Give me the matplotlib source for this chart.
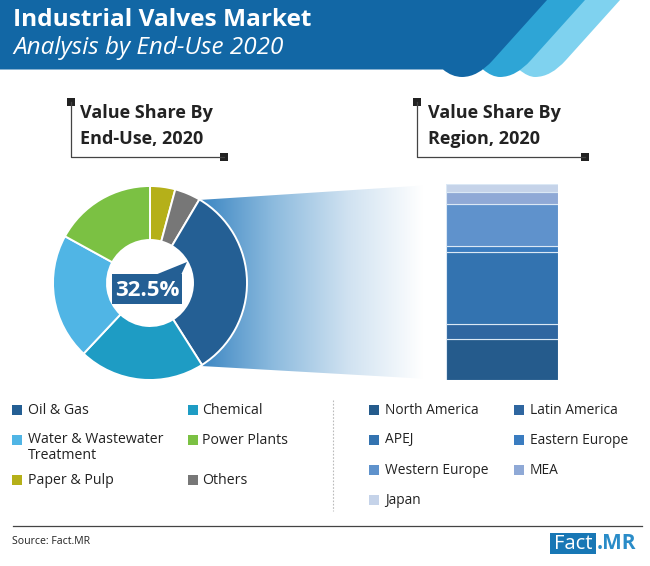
import numpy as np
import matplotlib
matplotlib.use("Agg")
import matplotlib.pyplot as plt
from matplotlib.patches import Rectangle, Polygon, PathPatch
from matplotlib.path import Path
from matplotlib.colors import LinearSegmentedColormap

plt.rcParams['font.family'] = ['Open Sans', 'DejaVu Sans']

# ---- data ----
end_use = ["Paper & Pulp", "Others", "Oil & Gas", "Chemical", "Water & Wastewater\nTreatment", "Power Plants"]
end_use_share = [4.2, 4.3, 32.5, 21.0, 21.0, 17.0]
end_use_colors = ["#b5b019", "#777777", "#245f94", "#1e9cc4", "#50b5e5", "#7bc143"]

regions = ["North America", "Latin America", "APEJ", "Eastern Europe", "Western Europe", "MEA", "Japan"]
region_share = [20.9, 7.8, 36.4, 3.1, 21.6, 6.0, 4.2]
region_colors = ["#255b8c", "#2f66a0", "#3373b0", "#3a7cc0", "#5f92cc", "#8fa9d6", "#c5d3e9"]

W, H = 650, 566
fig = plt.figure(figsize=(W / 100, H / 100), dpi=100, facecolor="white")
bg = fig.add_axes([0, 0, 1, 1])
bg.set_xlim(0, W)
bg.set_ylim(H, 0)
bg.axis("off")


def px_axes(x0, y0, x1, y1):
    return fig.add_axes([x0 / W, 1 - y1 / H, (x1 - x0) / W, (y1 - y0) / H])


def band(xt, xl, color, z, left_x=None):
    L, C = Path.LINETO, Path.CURVE3
    xr = xt - 54
    verts = [(xt, 0), (xr, 60), (xr - 15, 77), (xr - 31, 77), (xl + 9, 77), (xl, 69.5)]
    codes = [Path.MOVETO, L, C, C, C, C]
    if left_x is not None:
        verts += [(left_x, 69.5), (left_x, 0), (xt, 0)]
        codes += [L, L, L]
    else:
        verts += [(xl, 0), (xt, 0)]
        codes += [L, L]
    bg.add_patch(PathPatch(Path(verts, codes), fc=color, ec="none", zorder=z))


# ---- header ----
band(620, 519, "#7fd2ef", 1)
band(585, 483, "#2ea5d6", 2)
band(547, 443, "#1267a5", 3, left_x=0)
bg.text(13, 20.5, "Industrial Valves Market", color="white", fontsize=17.6, weight="bold",
        va="center", zorder=5)
bg.text(13, 48, "Analysis by End-Use 2020", color="white", fontsize=17.5, style="italic",
        va="center", zorder=5)

# ---- callouts ----
for xl, xr, l1, l2, xt in [(71, 224, "Value Share By", "End-Use, 2020", 80),
                           (417, 585, "Value Share By", "Region, 2020", 428)]:
    bg.plot([xl, xl, xr], [102, 157, 157], color="#444444", lw=0.9)
    for (sx, sy) in [(xl, 102), (xr, 157)]:
        bg.add_patch(Rectangle((sx - 4, sy - 4), 8, 8, color="#222222", lw=0))
    bg.text(xt, 113, l1, fontsize=13, weight="bold", color="#222222", va="center")
    bg.text(xt, 139, l2, fontsize=13, weight="bold", color="#222222", va="center")

# ---- funnel gradient ----
cmap = LinearSegmentedColormap.from_list("f", ["#3a85c2", "#8dbbde", "#d0e2f1", "#ffffff"])
im = bg.imshow(np.linspace(0, 1, 256)[None, :], extent=(199, 423, 400, 170), cmap=cmap,
               aspect="auto", zorder=0.5)
clip = Polygon([(199, 200), (446, 184), (446, 380), (201, 366)], transform=bg.transData,
               fc="none", ec="none")
bg.add_patch(clip)
im.set_clip_path(clip)
bg.set_xlim(0, W)
bg.set_ylim(H, 0)

# ---- donut ----
ax = px_axes(53, 186, 247, 380)
ax.pie(end_use_share, colors=end_use_colors, startangle=90, counterclock=False, radius=1,
       wedgeprops=dict(width=1 - 43 / 97, edgecolor="white", linewidth=1.4))
ax.set_xlim(-1, 1)
ax.set_ylim(-1, 1)
ax.patch.set_alpha(0)

# ---- stacked bar ----
ax2 = px_axes(446, 184, 558, 380)
bottom = 0
for v, c in zip(region_share, region_colors):
    ax2.bar(0, v, width=1, bottom=bottom, color=c, edgecolor="#dbe8f5", linewidth=0.8)
    bottom += v
ax2.set_xlim(-0.5, 0.5)
ax2.set_ylim(0, bottom)
ax2.axis("off")

# ---- centre label, on top of donut ----
top = fig.add_axes([0, 0, 1, 1])
top.set_xlim(0, W)
top.set_ylim(H, 0)
top.axis("off")
top.add_patch(Rectangle((112, 274), 70, 30, color="#245f94", lw=0))
top.add_patch(Polygon([(155, 275), (187, 262), (181, 275)], color="#245f94", lw=0))
top.text(147, 290, f"{end_use_share[2]}%", color="white", fontsize=16, weight="bold",
         ha="center", va="center")


def key(x, y, label, color, gap=16, size=10.2):
    top.add_patch(Rectangle((x, y - 5), 10, 10, color=color, lw=0))
    if "\n" in label:
        top.text(x + gap, y - 8, label, fontsize=size, color="#222222", va="top", linespacing=1.1)
    else:
        top.text(x + gap, y, label, fontsize=size, color="#222222", va="center")


# ---- legends ----
left_pos = {"Oil & Gas": (12, 410), "Chemical": (188, 410), "Water & Wastewater\nTreatment": (12, 440),
            "Power Plants": (188, 440), "Paper & Pulp": (12, 480), "Others": (188, 480)}
for n, c in zip(end_use, end_use_colors):
    px, py = left_pos[n]
    key(px, py, n, c, gap=16 if px < 100 else 14)
right_pos = [(369, 410), (514, 410), (369, 440), (514, 440), (369, 470), (514, 470), (369, 500)]
for n, c, p in zip(regions, region_colors, right_pos):
    key(*p, n, c, gap=16, size=9.9)
top.plot([333, 333], [400, 511], color="#bbbbbb", lw=0.8, ls=(0, (1.5, 1.5)))

# ---- footer ----
top.plot([13, 642], [526, 526], color="#444444", lw=0.9)
top.text(12, 541.5, "Source: Fact.MR", fontsize=7.6, color="#222222", va="center", weight="medium")
top.add_patch(Rectangle((550, 533), 46, 21, color="#1877b5", lw=0))
top.text(573, 549, "Fact", color="white", fontsize=14.5, ha="center", va="baseline")
top.text(597, 549, ".MR", color="#2a8cc8", fontsize=15, weight="bold", ha="left", va="baseline")

fig.savefig("out.png", dpi=100)
